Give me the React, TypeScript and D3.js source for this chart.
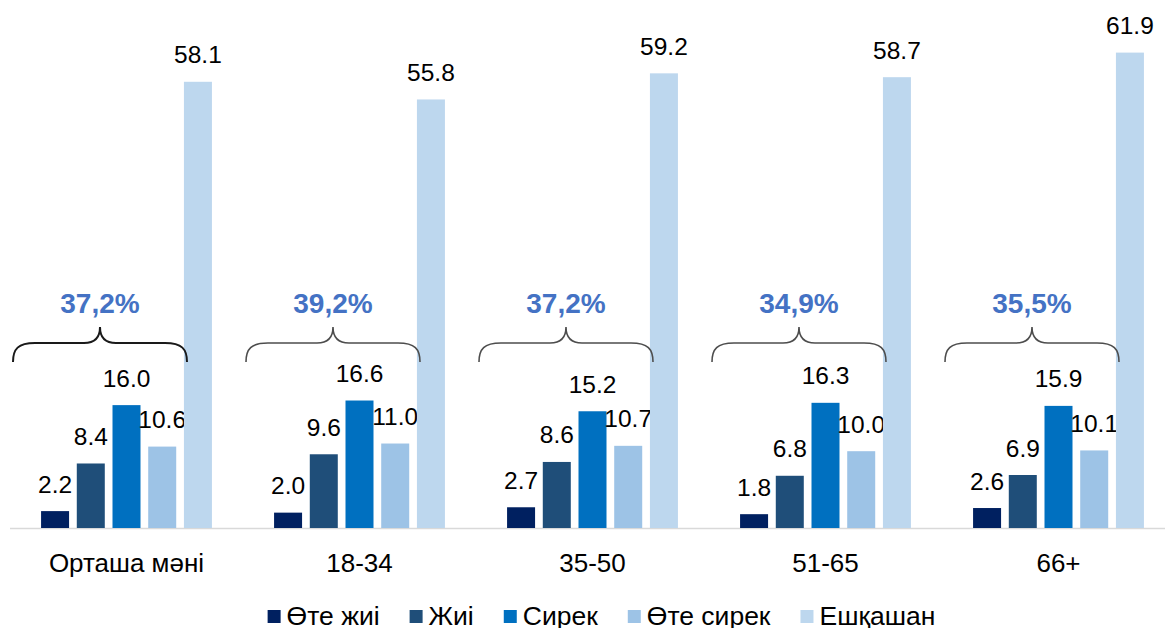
import React, { useEffect, useRef } from "react";
import * as d3 from "d3";

const categories = ["Орташа мәні", "18-34", "35-50", "51-65", "66+"];
const seriesNames = ["Өте жиі", "Жиі", "Сирек", "Өте сирек", "Ешқашан"];
const seriesColors = ["#002060", "#1F4E79", "#0070C0", "#9DC3E6", "#BDD7EE"];
const oteZhii = [2.2, 2.0, 2.7, 1.8, 2.6];
const zhii = [8.4, 9.6, 8.6, 6.8, 6.9];
const sirek = [16.0, 16.6, 15.2, 16.3, 15.9];
const oteSirek = [10.6, 11.0, 10.7, 10.0, 10.1];
const eshqashan = [58.1, 55.8, 59.2, 58.7, 61.9];
const braceLabels = ["37,2%", "39,2%", "37,2%", "34,9%", "35,5%"];

const W = 1165;
const H = 628;

export default function App() {
  const ref = useRef<SVGSVGElement>(null);

  useEffect(() => {
    const svg = d3.select(ref.current);
    svg.selectAll("*").remove();
    const font = "'Liberation Sans', Arial, sans-serif";
    const series = [oteZhii, zhii, sirek, oteSirek, eshqashan];

    const x0 = d3.scaleBand<string>().domain(categories).range([10, 1175]).padding(0);
    const x1 = d3
      .scaleBand<number>()
      .domain(d3.range(seriesNames.length))
      .range([0, x0.bandwidth()])
      .paddingInner(0.216)
      .paddingOuter(0.87);
    const baseY = 528;
    const y = d3.scaleLinear().domain([0, 528 / 7.68]).range([baseY, 0]);

    // axis line
    svg
      .append("line")
      .attr("x1", 10)
      .attr("x2", W)
      .attr("y1", baseY + 0.5)
      .attr("y2", baseY + 0.5)
      .attr("stroke", "#D9D9D9")
      .attr("stroke-width", 1.5);

    categories.forEach((cat, ci) => {
      const g = svg.append("g").attr("transform", `translate(${x0(cat)},0)`);
      series.forEach((vals, si) => {
        const v = vals[ci];
        const bx = x1(si)!;
        g.append("rect")
          .attr("x", bx)
          .attr("y", y(v))
          .attr("width", x1.bandwidth())
          .attr("height", baseY - y(v))
          .attr("fill", seriesColors[si]);
        g.append("text")
          .attr("x", bx + x1.bandwidth() / 2)
          .attr("y", y(v) - 18.5)
          .attr("text-anchor", "middle")
          .attr("font-family", font)
          .attr("font-size", 24.5)
          .attr("fill", "#000")
          .text(v.toFixed(1));
      });

      // category label
      g.append("text")
        .attr("x", x0.bandwidth() / 2)
        .attr("y", 572)
        .attr("text-anchor", "middle")
        .attr("font-family", font)
        .attr("font-size", 26)
        .attr("fill", "#000")
        .text(cat);

      // brace
      const cx = x0.bandwidth() / 2 - 26.5;
      const half = 87;
      const L = cx - half;
      const R = cx + half;
      const yEnd = 362;
      const yMid = 343;
      const yPeak = 327;
      const p = d3.path();
      p.moveTo(L, yEnd);
      p.bezierCurveTo(L, yMid + 6, L + 5, yMid, L + 22, yMid);
      p.lineTo(cx - 16, yMid);
      p.bezierCurveTo(cx - 5, yMid, cx, yMid - 5, cx, yPeak);
      p.bezierCurveTo(cx, yMid - 5, cx + 5, yMid, cx + 16, yMid);
      p.lineTo(R - 22, yMid);
      p.bezierCurveTo(R - 5, yMid, R, yMid + 6, R, yEnd);
      g.append("path")
        .attr("d", p.toString())
        .attr("fill", "none")
        .attr("stroke", ci === 0 ? "#1a1a1a" : "#4d4d4d")
        .attr("stroke-width", ci === 0 ? 2 : 1.6);

      g.append("text")
        .attr("x", cx)
        .attr("y", 313)
        .attr("text-anchor", "middle")
        .attr("font-family", font)
        .attr("font-size", 28)
        .attr("font-weight", "bold")
        .attr("fill", "#4472C4")
        .text(braceLabels[ci]);
    });

    // legend
    const lg = svg.append("g");
    let cursor = 0;
    seriesNames.forEach((name, i) => {
      const item = lg.append("g").attr("transform", `translate(${cursor},0)`);
      item
        .append("rect")
        .attr("x", 0)
        .attr("y", 610)
        .attr("width", 13)
        .attr("height", 13)
        .attr("fill", seriesColors[i]);
      const t = item
        .append("text")
        .attr("x", 19)
        .attr("y", 625)
        .attr("font-family", font)
        .attr("font-size", 26.5)
        .attr("fill", "#000")
        .text(name);
      const tw = (t.node() as SVGTextElement).getComputedTextLength();
      cursor += 19 + tw + (i < seriesNames.length - 1 ? 30 : 0);
    });
    const total = cursor;
    lg.attr("transform", `translate(${601.5 - total / 2},0)`);
  }, []);

  return (
    <svg
      ref={ref}
      width={W}
      height={H}
      style={{ position: "absolute", left: 0, top: 0, background: "#fff" }}
    />
  );
}
